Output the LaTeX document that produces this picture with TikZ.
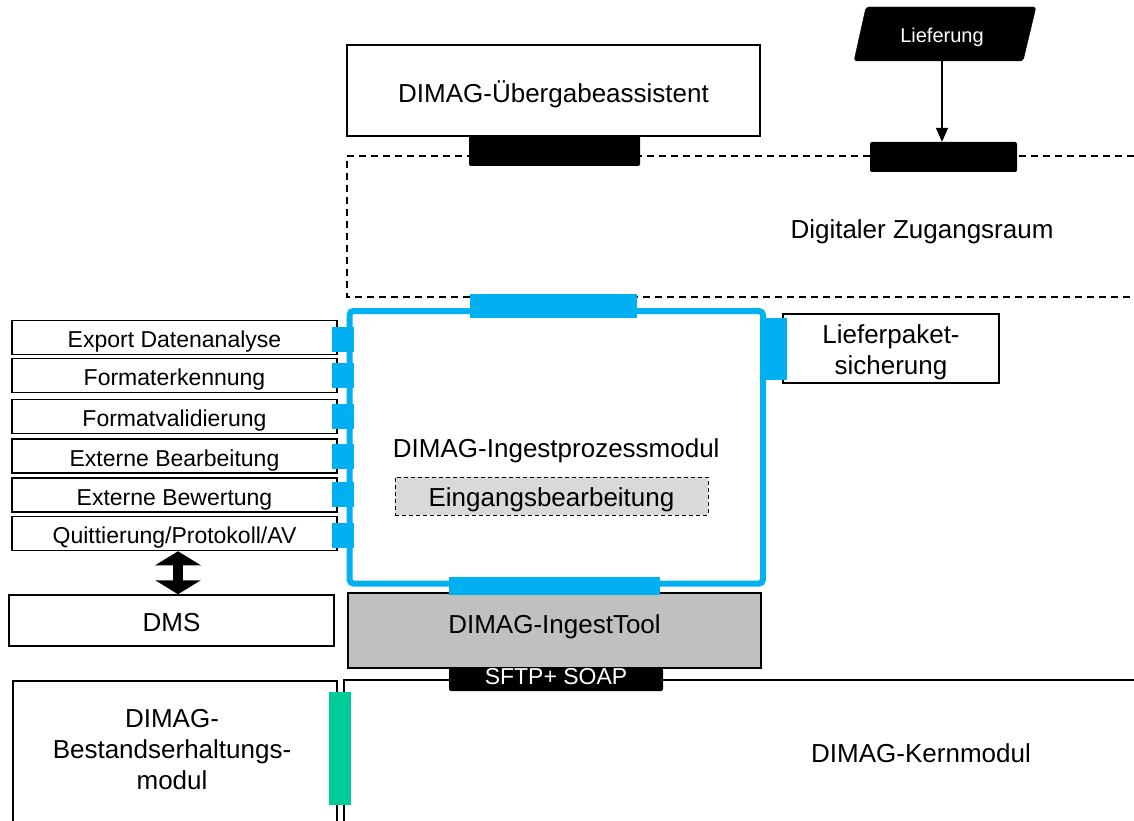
\documentclass[tikz,border=0pt]{standalone}
\usepackage{fontspec}
\setmainfont{Liberation Sans}
\usetikzlibrary{arrows.meta}
\definecolor{ablue}{HTML}{00B0F0}
\definecolor{agreen}{HTML}{00CC99}
\definecolor{agray}{HTML}{C0C0C0}
\definecolor{lgray}{HTML}{D9D9D9}
\newcommand{\fsbig}{\fontsize{26}{31}\selectfont}
\newcommand{\fssmall}{\fontsize{23}{27}\selectfont}
\newcommand{\fsmini}{\fontsize{20}{24}\selectfont}
\begin{document}
\begin{tikzpicture}[x=1pt,y=-1pt,
 box/.style={draw=black, line width=1.5pt, fill=white, inner sep=0pt, align=center, font=\fsbig},
 caps/.style={text height=#1, text depth=0pt},
 caps/.default=18.6pt,
 sbox/.style={draw=black, line width=1.5pt, fill=white, inner sep=0pt, minimum width=325pt, minimum height=34pt, font=\fssmall, caps=20pt},
 bport/.style={fill=ablue, inner sep=0pt},
 kport/.style={fill=black, rounded corners=2pt, inner sep=0pt},
 lbl/.style={inner sep=0pt, align=center, font=\fsbig},
 zone/.style={line width=1.5pt, dash pattern=on 7pt off 5pt},
]
\useasboundingbox (0,0) rectangle (1134,821);

% Digitaler Zugangsraum
\draw[zone] (1134,156) -- (347,156) -- (347,297) -- (1134,297);
\node[lbl, caps] (dzr) at (922,229) {Digitaler Zugangsraum};

% Uebergabeassistent
\node[box, caps=24.6pt, minimum width=413pt, minimum height=91pt] (ueb) at (553.5,90.5) {DIMAG-Übergabeassistent};
\node[kport, minimum width=171pt, minimum height=30pt] (uport) at (554.5,151) {};

% Lieferung
\draw[fill=black, rounded corners=3pt] (854,61) -- (866,7) -- (1036,7) -- (1023,61) -- cycle;
\node[inner sep=0pt, minimum height=54pt, text=white, font=\fsmini, caps=16.9pt] (lief) at (942,34) {Lieferung};
\node[kport, minimum width=147pt, minimum height=30pt] (lport) at (943.5,157) {};
\draw[line width=1.5pt, -{Triangle[width=12pt,length=14pt]}] (lief.south) -- (lief.south |- lport.north);

% Ingestprozessmodul
\node[draw=ablue, line width=6pt, rounded corners=4pt, fill=white, inner sep=0pt, caps=20.1pt,
      minimum width=413.5pt, minimum height=272.5pt, font=\fsbig] (ipm) at (556.25,447.25) {DIMAG-Ingestprozessmodul};
\node[draw=black, line width=1pt, dash pattern=on 4pt off 3pt, fill=lgray, inner sep=0pt, caps=20.6pt,
      minimum width=313pt, minimum height=38pt, font=\fsbig] (eing) at (551.5,496) {Eingangsbearbeitung};
\node[bport, minimum width=167pt, minimum height=24pt] (tport) at (553.5,306) {};

% Lieferpaketsicherung
\node[box, minimum width=216pt, minimum height=69pt] (lps) at (891,348.5) {};
\node[lbl] (lpsl) at (891,352) {Lieferpaket-\\sicherung};
\node[bport, minimum width=22pt, minimum height=62pt] (rport) at (776,349) {};

% left function boxes
\node[sbox] (exp) at (174.5,337.5) {Export Datenanalyse};
\node[sbox] (fek) at (174.5,375.5) {Formaterkennung};
\node[sbox] (fva) at (174.5,416.5) {Formatvalidierung};
\node[sbox] (ebe) at (174.5,456) {Externe Bearbeitung};
\node[sbox] (ebw) at (174.5,495) {Externe Bewertung};
\node[sbox] (qui) at (174.5,533.5) {Quittierung/Protokoll/AV};
\foreach \n/\y in {p1/339.5, p2/375, p3/416, p4/456, p5/494.5, p6/535.5}
  \node[bport, minimum width=22pt, minimum height=25pt] (\n) at (343,\y) {};

% DMS
\node[box, caps=21.6pt, minimum width=325pt, minimum height=51pt] (dms) at (171.5,620.5) {DMS};
\draw[line width=10pt, {Triangle[width=45pt,length=14pt]}-{Triangle[width=45pt,length=14pt]}]
  ([xshift=3.5pt]qui.south) -- ([xshift=3.5pt]qui.south |- dms.north);

% IngestTool
\node[box, fill=agray, caps=6.6pt, minimum width=413pt, minimum height=75pt] (itool) at (554.5,630.5) {DIMAG-IngestTool};
\node[bport, minimum width=211pt, minimum height=18pt] (bport) at (554.5,586) {};

% Kernmodul
\node[draw=black, line width=1.5pt, fill=white, inner sep=0pt, minimum width=800pt, minimum height=160pt, anchor=north west] (kern) at (343,679) {};
\node[lbl, caps] (kernl) at (921,753) {DIMAG-Kernmodul};
\node[kport, minimum width=214pt, minimum height=23pt, text=white, font=\fssmall, caps=10.1pt] (sftp) at (556,679.5) {SFTP+ SOAP};

% Bestandserhaltungsmodul
\node[draw=black, line width=1.5pt, fill=white, inner sep=0pt, minimum width=324pt, minimum height=160pt, anchor=north west] (best) at (12,680) {};
\node[lbl] (bestl) at (172,750) {DIMAG-\\Bestandserhaltungs-\\modul};
\node[fill=agreen, inner sep=0pt, minimum width=22pt, minimum height=113pt] (gport) at (340,748.5) {};
\end{tikzpicture}
\end{document}
